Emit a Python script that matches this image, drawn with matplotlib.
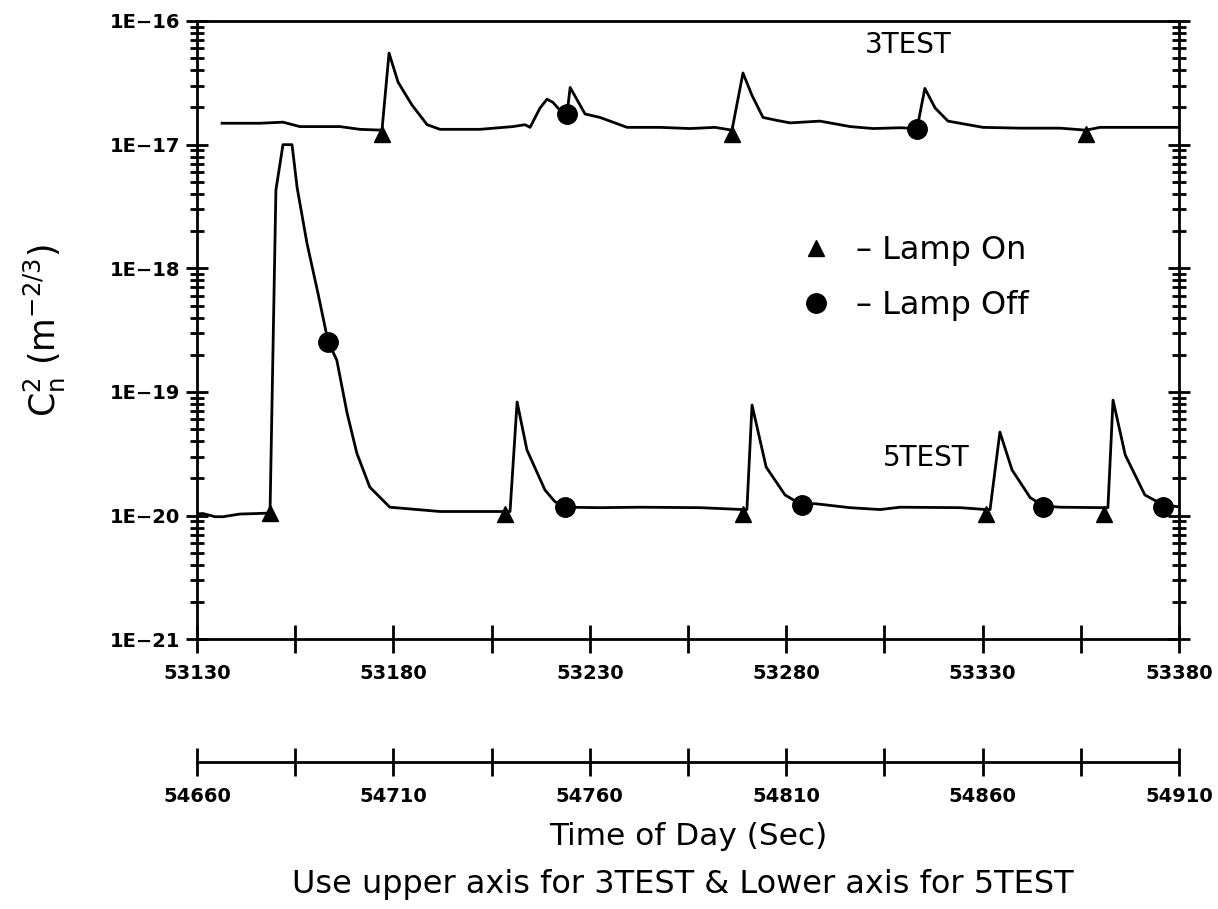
import numpy as np
import matplotlib
matplotlib.use("Agg")
import matplotlib.pyplot as plt
from matplotlib.lines import Line2D
from matplotlib.ticker import FixedLocator, FuncFormatter, NullFormatter

# 3TEST record (upper time axis)
t3 = [53136.4, 53146.0, 53151.9, 53156.2, 53166.4, 53171.5, 53177.1, 53178.9,
      53181.2, 53184.7, 53188.6, 53191.9, 53202.0, 53210.4, 53213.5, 53214.8,
      53217.3, 53219.1, 53220.6, 53222.4, 53224.2, 53225.0, 53228.8, 53232.6,
      53239.5, 53247.9, 53255.5, 53261.9, 53266.2, 53269.0, 53271.3, 53274.1,
      53277.7, 53281.0, 53288.6, 53296.3, 53302.1, 53309.0, 53313.3, 53315.3,
      53317.9, 53321.2, 53330.1, 53339.5, 53349.7, 53356.3, 53359.9, 53379.5]
c3 = [1.49e-17, 1.49e-17, 1.52e-17, 1.40e-17, 1.40e-17, 1.33e-17, 1.31e-17, 5.5e-17,
      3.2e-17, 2.1e-17, 1.45e-17, 1.33e-17, 1.33e-17, 1.40e-17, 1.45e-17, 1.38e-17,
      1.97e-17, 2.33e-17, 2.2e-17, 1.9e-17, 1.76e-17, 2.9e-17, 1.77e-17, 1.66e-17,
      1.38e-17, 1.38e-17, 1.35e-17, 1.38e-17, 1.31e-17, 3.8e-17, 2.5e-17, 1.66e-17,
      1.57e-17, 1.50e-17, 1.55e-17, 1.40e-17, 1.35e-17, 1.37e-17, 1.35e-17, 2.85e-17,
      1.98e-17, 1.55e-17, 1.38e-17, 1.36e-17, 1.36e-17, 1.31e-17, 1.38e-17, 1.38e-17]

# 5TEST record (lower time axis, shifted by 1530 s)
t5 = [53130.0, 53131.5, 53134.6, 53136.6, 53140.9, 53145.3, 53148.6, 53150.1,
      53151.9, 53154.2, 53155.5, 53158.0, 53160.8, 53163.4, 53165.6, 53168.2,
      53170.7, 53174.0, 53179.1, 53187.5, 53191.9, 53202.0, 53208.4, 53209.7,
      53211.5, 53214.0, 53218.6, 53221.1, 53223.7, 53232.6, 53242.8, 53258.1,
      53269.0, 53270.0, 53271.3, 53274.9, 53279.7, 53284.0, 53287.3, 53296.2,
      53303.9, 53309.0, 53324.3, 53330.9, 53331.9, 53334.4, 53337.5, 53342.1,
      53345.4, 53349.7, 53360.9, 53361.9, 53363.2, 53366.3, 53371.3, 53376.0,
      53379.8]
c5 = [1.03e-20, 1.04e-20, 0.98e-20, 0.98e-20, 1.03e-20, 1.04e-20, 1.05e-20, 4.3e-18,
      1.0e-17, 1.0e-17, 4.5e-18, 1.6e-18, 6.3e-19, 2.54e-19, 1.81e-19, 6.8e-20,
      3.2e-20, 1.7e-20, 1.17e-20, 1.11e-20, 1.08e-20, 1.08e-20, 1.08e-20, 1.08e-20,
      8.3e-20, 3.4e-20, 1.61e-20, 1.3e-20, 1.17e-20, 1.16e-20, 1.17e-20, 1.16e-20,
      1.12e-20, 1.12e-20, 7.85e-20, 2.47e-20, 1.47e-20, 1.22e-20, 1.25e-20, 1.16e-20,
      1.12e-20, 1.17e-20, 1.16e-20, 1.12e-20, 1.12e-20, 4.74e-20, 2.34e-20, 1.4e-20,
      1.2e-20, 1.17e-20, 1.16e-20, 1.16e-20, 8.6e-20, 3.1e-20, 1.47e-20, 1.22e-20,
      1.18e-20]

# lamp events
on3_t = [53177.1, 53266.2, 53356.3]
on3_c = [1.22e-17, 1.22e-17, 1.21e-17]
off3_t = [53224.2, 53313.3]
off3_c = [1.76e-17, 1.35e-17]
on5_t = [53148.6, 53208.4, 53269.0, 53330.9, 53360.9]
on5_c = [1.05e-20, 1.03e-20, 1.04e-20, 1.03e-20, 1.04e-20]
off5_t = [53163.4, 53223.7, 53284.0, 53345.4, 53376.0]
off5_c = [2.54e-19, 1.17e-20, 1.22e-20, 1.18e-20, 1.18e-20]

upper_ticks = [53130, 53180, 53230, 53280, 53330, 53380]
lower_ticks = [54660, 54710, 54760, 54810, 54860, 54910]
shift = lower_ticks[0] - upper_ticks[0]

plt.rcParams['font.family'] = ['DejaVu Sans']

fig = plt.figure(figsize=(12.18, 9.09), dpi=100)
ax = fig.add_axes([0.1617, 0.2967, 0.8063, 0.6802])

ax.plot(t3, c3, color='black', lw=2)
ax.plot(t5, c5, color='black', lw=2)
ax.plot(on3_t + on5_t, on3_c + on5_c, ls='none', marker='^', ms=12, color='black')
ax.plot(off3_t + off5_t, off3_c + off5_c, ls='none', marker='o', ms=14, color='black')

ax.set_yscale('log')
ax.set_xlim(upper_ticks[0], upper_ticks[-1])
ax.set_ylim(1e-21, 1e-16)

for s in ax.spines.values():
    s.set_linewidth(2)

ax.xaxis.set_major_locator(FixedLocator(upper_ticks))
ax.xaxis.set_minor_locator(FixedLocator([v + 25 for v in upper_ticks[:-1]]))
ax.tick_params(axis='x', which='both', direction='inout', length=20, width=2,
               top=False, labelsize=14, pad=8)
ax.yaxis.set_major_locator(FixedLocator([10.0 ** k for k in range(-21, -15)]))
ax.yaxis.set_minor_locator(FixedLocator([m * 10.0 ** k for k in range(-21, -16) for m in range(2, 10)]))
ax.yaxis.set_major_formatter(FuncFormatter(lambda v, p: '1E\u2212%d' % round(-np.log10(v))))
ax.yaxis.set_minor_formatter(NullFormatter())
ax.tick_params(axis='y', which='major', direction='inout', length=16, width=2,
               right=True, labelsize=14, pad=4)
ax.tick_params(axis='y', which='minor', direction='inout', length=10, width=2, right=True)
for lab in ax.get_xticklabels() + ax.get_yticklabels():
    lab.set_fontweight('bold')

# second time axis for 5TEST
sec = ax.secondary_xaxis(-0.198, functions=(lambda x: x + shift, lambda x: x - shift))
sec.spines['bottom'].set_linewidth(2)
sec.xaxis.set_major_locator(FixedLocator(lower_ticks))
sec.xaxis.set_minor_locator(FixedLocator([v + 25 for v in lower_ticks[:-1]]))
sec.tick_params(axis='x', which='both', direction='inout', length=20, width=2,
                labelsize=14, pad=8)
for lab in sec.get_xticklabels():
    lab.set_fontweight('bold')
sec.set_xlabel('Time of Day (Sec)', fontsize=22.5, labelpad=12)

fig.text(0.561, 0.027, 'Use upper axis for 3TEST & Lower axis for 5TEST',
         fontsize=23, ha='center', va='center')

ax.set_ylabel(r'$\mathregular{C_n^2}$ (m$^{\mathregular{-2/3}}$)', fontsize=25)
ax.yaxis.set_label_coords(-0.131, 0.5)

ax.text(53311, 6.4e-17, '3TEST', fontsize=20, ha='center', va='center')
ax.text(53315.6, 2.9e-20, '5TEST', fontsize=20, ha='center', va='center')

handles = [Line2D([], [], ls='none', marker='^', ms=12, color='black'),
           Line2D([], [], ls='none', marker='o', ms=14, color='black')]
ax.legend(handles, ['\u2013 Lamp On', '\u2013 Lamp Off'], loc='upper left',
          bbox_to_anchor=(0.585, 0.70), frameon=False, fontsize=23,
          handlelength=1.0, handletextpad=0.75, labelspacing=0.75)

fig.savefig('out.png', dpi=100)
